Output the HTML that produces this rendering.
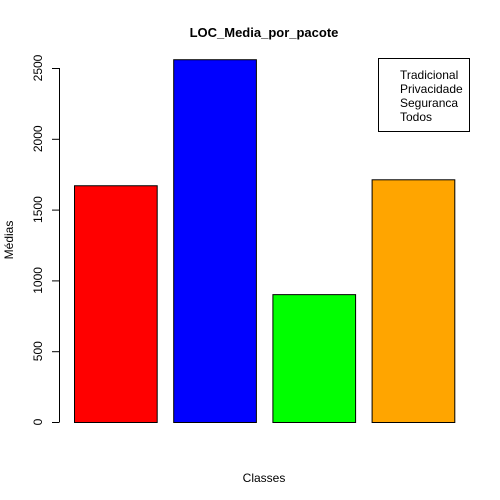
<!DOCTYPE html>
<html><head><meta charset="utf-8"><style>
html,body{margin:0;padding:0;background:#fff;}
svg{display:block;font-family:"Liberation Sans",Arial,sans-serif;}
</style></head><body>
<svg id="chart" width="500" height="500">
<text x="264" y="37" text-anchor="middle" font-size="13" font-weight="bold">LOC_Media_por_pacote</text>
<text x="264" y="482" text-anchor="middle" font-size="12">Classes</text>
<text transform="translate(13,240) rotate(-90)" text-anchor="middle" font-size="12">Médias</text>
<g id="yaxis"></g>
<g id="bars"></g>
<g>
<rect x="378.5" y="58.5" width="91" height="73" fill="none" stroke="#000"/>
<text x="400" y="79" font-size="12">Tradicional</text>
<text x="400" y="93" font-size="12">Privacidade</text>
<text x="400" y="107" font-size="12">Seguranca</text>
<text x="400" y="121" font-size="12">Todos</text>
</g>
</svg>
<script>
const categories = ["Tradicional","Privacidade","Seguranca","Todos"];
const values = [1672, 2562, 903, 1714];
const colors = ["#ff0000","#0000ff","#00ff00","#ffa500"];
const yTicks = [0,500,1000,1500,2000,2500];
const NS="http://www.w3.org/2000/svg";
function y(v){return 422 - v*354/2500;}
function xLeft(i){return 74 + i*99.2;}
const bw=82.7;
const bars=document.getElementById('bars');
values.forEach((v,i)=>{
  const r=document.createElementNS(NS,'rect');
  r.setAttribute('x',xLeft(i)+0.5);
  r.setAttribute('y',y(v)+0.5);
  r.setAttribute('width',bw);
  r.setAttribute('height',y(0)-y(v));
  r.setAttribute('fill',colors[i]);
  r.setAttribute('stroke','#000');
  
  
  bars.appendChild(r);
});
const ya=document.getElementById('yaxis');
const ax=document.createElementNS(NS,'line');
ax.setAttribute('x1',59.5);ax.setAttribute('x2',59.5);
ax.setAttribute('y1',y(0));ax.setAttribute('y2',y(2500));
ax.setAttribute('stroke','#000');


ya.appendChild(ax);
yTicks.forEach(t=>{
  const l=document.createElementNS(NS,'line');
  l.setAttribute('x1',52);l.setAttribute('x2',59.5);
  l.setAttribute('y1',y(t)+0.5);l.setAttribute('y2',y(t)+0.5);
  l.setAttribute('stroke','#000');
  
  
  ya.appendChild(l);
  const tx=document.createElementNS(NS,'text');
  tx.setAttribute('transform','translate(42,'+y(t)+') rotate(-90)');
  tx.setAttribute('text-anchor','middle');
  tx.setAttribute('font-size','12');
  tx.textContent=t;
  
  
  ya.appendChild(tx);
});
</script>
</body></html>
